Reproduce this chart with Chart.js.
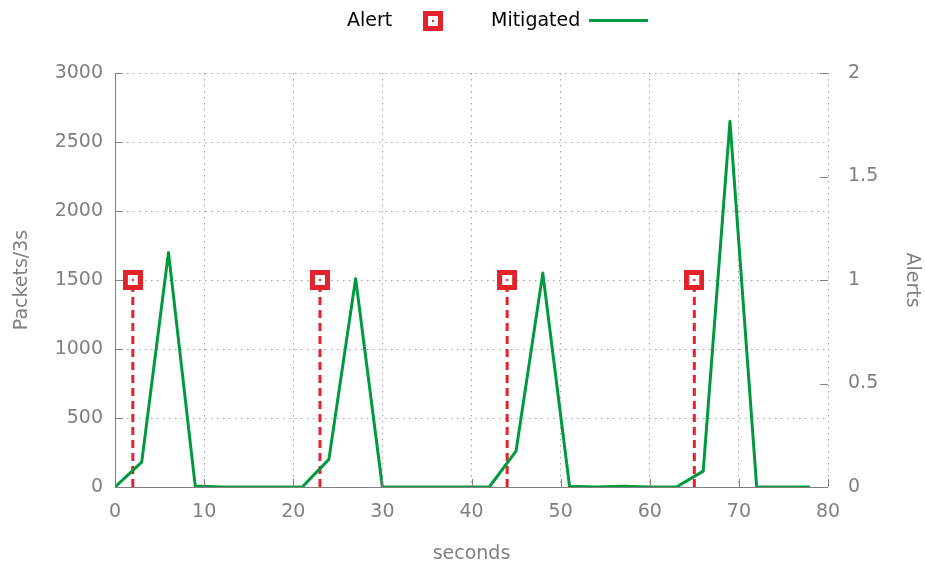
<!DOCTYPE html>
<html>
<head>
<meta charset="utf-8">
<script src="https://cdn.jsdelivr.net/npm/chart.js@4/dist/chart.umd.min.js"></script>
<style>
  html, body { margin: 0; padding: 0; background: #fff; }
  #wrap { position: relative; width: 925px; height: 565px; }
  #legend { position: absolute; top: 0; left: 0; width: 925px; height: 40px;
            font-family: "DejaVu Sans", sans-serif; font-size: 19px; color: #000; }
  #legend span { position: absolute; top: 8px; }
  .swatch-line { position: absolute; top: 19px; left: 589px; width: 59px; height: 3px; background: #009a3e; }
  .swatch-box { position: absolute; top: 11px; left: 423px; width: 10px; height: 10px;
                border: 5px solid #e3222b; background: #fff; }
  .swatch-box::after { content: ""; position: absolute; left: 4px; top: 4px; width: 2px; height: 2px; background: #e3222b; }
</style>
</head>
<body>
<div id="wrap">
  <canvas id="myChart" width="925" height="565"></canvas>
  <div id="legend">
    <span style="left:347px">Alert</span>
    <div class="swatch-box"></div>
    <span style="left:491px">Mitigated</span>
    <div class="swatch-line"></div>
  </div>
</div>
<script>
// mitigated traffic, sampled every 3 seconds
const seconds = [0, 3, 6, 9, 12, 15, 18, 21, 24, 27, 30, 33, 36, 39, 42, 45, 48, 51, 54, 57, 60, 63, 66, 69, 72, 75, 78];
const mitigated = [0, 180, 1700, 8, 0, 0, 0, 0, 200, 1510, 0, 0, 0, 0, 0, 260, 1550, 5, 0, 5, 0, 0, 115, 2650, 0, 0, 0];

// alerts (right axis)
const alertTimes = [2, 23, 44, 65];
const alertValues = [1, 1, 1, 1];

const xTicks = [0, 10, 20, 30, 40, 50, 60, 70, 80];
const gray = '#808080';
const gridColor = '#a0a0a0';
const red = '#e3222b';
const green = '#009a3e';

function boxMarker() {
    const c = document.createElement('canvas');
    c.width = 20; c.height = 20;
    const g = c.getContext('2d');
    g.fillStyle = red;
    g.fillRect(0, 0, 20, 20);
    g.fillStyle = '#fff';
    g.fillRect(5, 5, 10, 10);
    g.fillStyle = red;
    g.fillRect(9, 9, 2, 2);
    return c;
}

const mitigatedPts = seconds.map((s, i) => ({x: s, y: mitigated[i]}));
const alertPts = alertTimes.map((t, i) => ({x: t, y: alertValues[i]}));
// impulses: vertical segment from 0 up to the alert value, broken by null
const impulsePts = [];
alertTimes.forEach((t, i) => {
    impulsePts.push({x: t, y: 0}, {x: t, y: alertValues[i]}, {x: t, y: null});
});

// gnuplot style inward tick marks
const innerTicks = {
    id: 'innerTicks',
    afterDraw(chart) {
        const ctx = chart.ctx;
        const a = chart.chartArea;
        const sx = chart.scales.x, sy = chart.scales.y, sy2 = chart.scales.y2;
        ctx.save();
        ctx.strokeStyle = gray;
        ctx.lineWidth = 1;
        ctx.beginPath();
        sx.ticks.forEach(t => {
            const px = Math.round(sx.getPixelForValue(t.value)) + 0.5;
            ctx.moveTo(px, a.bottom);
            ctx.lineTo(px, a.bottom - 8);
        });
        sy.ticks.forEach(t => {
            const py = Math.round(sy.getPixelForValue(t.value)) + 0.5;
            ctx.moveTo(a.left, py);
            ctx.lineTo(a.left + 8, py);
        });
        sy2.ticks.forEach(t => {
            const py = Math.round(sy2.getPixelForValue(t.value)) + 0.5;
            ctx.moveTo(a.right, py);
            ctx.lineTo(a.right - 8, py);
        });
        // solid left and bottom border
        ctx.moveTo(a.left + 0.5, a.top);
        ctx.lineTo(a.left + 0.5, a.bottom + 0.5);
        ctx.lineTo(a.right, a.bottom + 0.5);
        ctx.stroke();
        ctx.restore();
    }
};

Chart.defaults.font.family = '"DejaVu Sans", sans-serif';
Chart.defaults.font.size = 19;
Chart.defaults.color = gray;

const ctx = document.getElementById('myChart').getContext('2d');
const myChart = new Chart(ctx, {
    type: 'line',
    data: {
        datasets: [{
            label: 'Alert impulses',
            data: impulsePts,
            yAxisID: 'y2',
            borderColor: red,
            borderWidth: 3,
            borderDash: [8, 5],
            pointRadius: 0,
            spanGaps: false,
            order: 3
        }, {
            label: 'Mitigated',
            data: mitigatedPts,
            yAxisID: 'y',
            borderColor: green,
            borderWidth: 3,
            borderJoinStyle: 'round',
            pointRadius: 0,
            tension: 0,
            fill: false,
            order: 2
        }, {
            label: 'Alert',
            data: alertPts,
            yAxisID: 'y2',
            showLine: false,
            pointStyle: boxMarker(),
            pointRadius: 10,
            order: 1
        }]
    },
    options: {
        responsive: false,
        animation: false,
        events: [],
        layout: {
            padding: {top: 73, left: 2, right: 2, bottom: 0}
        },
        plugins: {
            legend: {display: false},
            tooltip: {enabled: false}
        },
        scales: {
            x: {
                type: 'linear',
                min: 0,
                max: 80,
                afterBuildTicks: (axis) => { axis.ticks = xTicks.map(v => ({value: v})); },
                afterFit: (axis) => { axis.height = 78; },
                ticks: {padding: 14, maxRotation: 0, callback: (v) => String(v)},
                grid: {color: gridColor, lineWidth: 1, drawTicks: false},
                border: {display: false, dash: [1.5, 4.5]},
                title: {display: true, text: 'seconds', padding: {top: 0, bottom: 0}}
            },
            y: {
                position: 'left',
                min: 0,
                max: 3000,
                afterFit: (axis) => { axis.width = 113; },
                ticks: {stepSize: 500, padding: 12, callback: (v) => String(v)},
                grid: {color: gridColor, lineWidth: 1, drawTicks: false},
                border: {display: false, dash: [1.5, 4.5]},
                title: {display: true, text: 'Packets/3s', padding: {top: 9, bottom: 0}}
            },
            y2: {
                position: 'right',
                min: 0,
                max: 2,
                afterFit: (axis) => { axis.width = 95; },
                ticks: {stepSize: 0.5, padding: 20, callback: (v) => String(v)},
                grid: {display: false, drawTicks: false},
                border: {display: false},
                title: {display: true, text: 'Alerts', padding: {top: 0, bottom: 0}}
            }
        }
    },
    plugins: [innerTicks]
});
</script>
</body>
</html>
